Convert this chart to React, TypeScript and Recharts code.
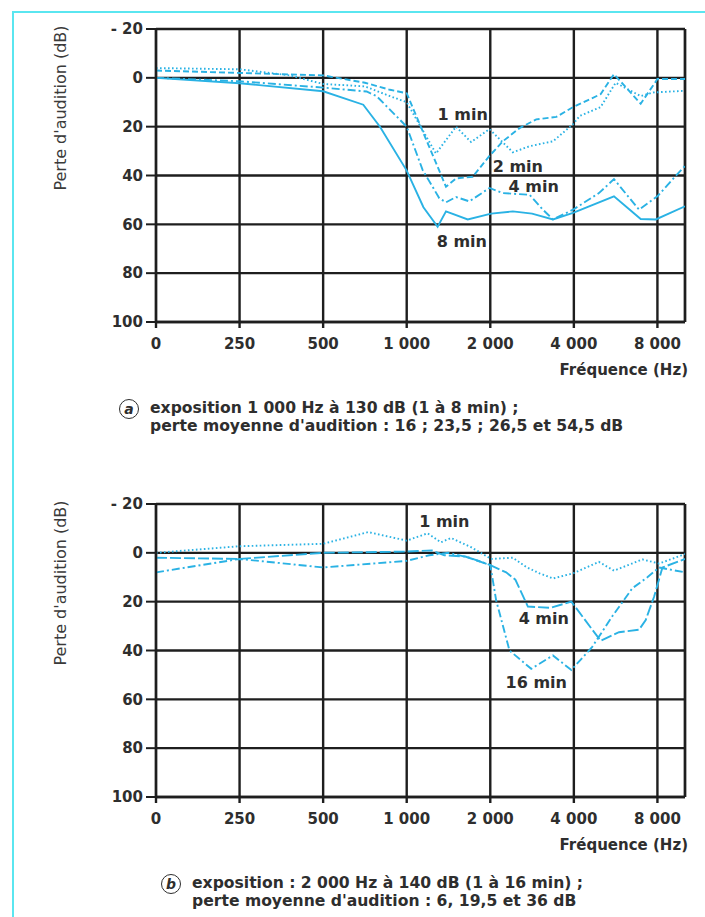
import {
  LineChart,
  Line,
  XAxis,
  YAxis,
  CartesianGrid,
  ReferenceLine,
  ReferenceDot,
} from "recharts";

const freqTicks = [0, 1, 2, 3, 4, 5, 6];
const freqLabels = ["0", "250", "500", "1 000", "2 000", "4 000", "8 000"];
const dbTicks = [-20, 0, 20, 40, 60, 80, 100];
const xMax = 6.33;

// points are [octave position on the axis, hearing loss in dB]
// (a) 1000 Hz at 130 dB
const a1min = [[0, -4], [1, -3.5], [1.6, -1], [2, 2.5], [2.5, 3.5], [2.8, 7.5], [3, 10], [3.35, 31], [3.59, 20], [3.77, 26.3], [3.99, 21], [4.27, 30.5], [4.47, 28], [4.75, 26], [4.99, 19], [5.07, 15.6], [5.32, 12], [5.5, 2], [5.8, 7.5], [5.95, 6], [6.33, 5.3]];
const a2min = [[0, -3], [1, -2], [2, -1], [2.5, 2], [2.8, 4.9], [3, 6.3], [3.47, 44.6], [3.59, 41.2], [3.79, 40.5], [3.99, 32], [4.15, 26], [4.35, 20.6], [4.55, 17], [4.79, 16], [4.99, 12], [5.32, 6.7], [5.48, -1.5], [5.8, 10.6], [6, 0.5], [6.33, 0.5]];
const a4min = [[0, 0], [1, 1.4], [2, 4], [2.52, 5.6], [2.64, 7.5], [3, 20], [3.19, 37.7], [3.39, 49.3], [3.47, 51], [3.59, 48.8], [3.75, 50.6], [3.99, 45.1], [4.15, 47.2], [4.47, 47.9], [4.63, 54], [4.75, 58], [4.99, 54], [5.3, 47.2], [5.48, 41.5], [5.78, 54], [6, 48.5], [6.33, 36]];
const a8min = [[0, 0], [1, 2.2], [2, 5.5], [2.48, 11], [2.68, 20], [3, 38], [3.2, 53], [3.37, 61], [3.47, 54.7], [3.73, 58], [4.01, 55.6], [4.27, 54.7], [4.5, 55.6], [4.75, 58], [4.99, 55.3], [5.48, 48.5], [5.8, 57.8], [5.98, 58], [6.33, 52.6]];

// (b) 2000 Hz at 140 dB
const b1min = [[0, 0], [1, -2.7], [2, -3.7], [2.54, -8.5], [3, -5], [3.25, -8], [3.41, -4.3], [3.53, -6.1], [3.77, -2.3], [4.01, 2.5], [4.27, 2], [4.43, 5.8], [4.59, 8.4], [4.75, 10.5], [4.99, 8.4], [5.3, 3.7], [5.48, 7.3], [5.82, 2.7], [6.02, 4.4], [6.33, 0.5]];
const b4min = [[0, 2], [1, 2.5], [2, 0], [3, -0.5], [3.3, -1], [3.45, 1], [3.7, 1.5], [4, 5], [4.19, 8], [4.3, 11], [4.45, 22], [4.72, 22.5], [4.97, 20], [5.32, 36], [5.54, 32.5], [5.78, 31.5], [5.86, 27.5], [5.96, 18], [6.06, 6], [6.33, 2.5]];
const b16min = [[0, 8], [1, 2.5], [2, 6], [3, 3.3], [3.27, 1], [3.5, 0], [3.75, 2], [4, 5], [4.07, 19.4], [4.23, 40], [4.49, 47.5], [4.75, 42], [4.97, 48], [5.22, 38.5], [5.46, 26], [5.7, 14.5], [5.88, 10], [6.02, 6], [6.33, 8]];

const FONT = "'DejaVu Sans', 'Liberation Sans', sans-serif";
const INK = "#2e2e2e";
const GRID = "#1e1e1e";
const BLUE = "#2ab2e4";
const FRAME = "#5ae6f0";

const DOT = "1.6 2.4";
const DASH = "6 3";
const DASHDOT = "8 3 2 3";
const LONGDASH = "11 3";

const toPts = (arr: number[][]) => arr.map(([x, y]) => ({ x, y }));

const chartA = [
  { name: "1 min", pts: a1min, dash: DOT },
  { name: "2 min", pts: a2min, dash: DASH },
  { name: "4 min", pts: a4min, dash: DASHDOT },
  { name: "8 min", pts: a8min, dash: undefined },
];
const notesA = [
  { text: "1 min", x: 3.67, y: 15 },
  { text: "2 min", x: 4.33, y: 36.3 },
  { text: "4 min", x: 4.52, y: 44.5 },
  { text: "8 min", x: 3.66, y: 67 },
];

const chartB = [
  { name: "1 min", pts: b1min, dash: DOT },
  { name: "4 min", pts: b4min, dash: LONGDASH },
  { name: "16 min", pts: b16min, dash: DASHDOT },
];
const notesB = [
  { text: "1 min", x: 3.45, y: -12.7 },
  { text: "4 min", x: 4.64, y: 26.7 },
  { text: "16 min", x: 4.55, y: 53.3 },
];

const tickFont = { fill: INK, fontSize: 15, fontWeight: "bold", fontFamily: FONT };

function Audiogram({ series, notes, top, letter, line1, line2, capX }: any) {
  return (
    <div style={{ position: "absolute", left: 0, top, width: 705, height: 450 }}>
      <LineChart width={705} height={360} margin={{ top: 29, right: 20, bottom: 8, left: 96 }}>
        <CartesianGrid stroke={GRID} strokeWidth={2.4} />
        <XAxis
          type="number"
          dataKey="x"
          domain={[0, xMax]}
          ticks={freqTicks}
          interval={0}
          allowDataOverflow
          tickFormatter={(v: number) => freqLabels[v]}
          height={30}
          tickSize={6}
          tickMargin={10}
          axisLine={{ stroke: GRID, strokeWidth: 2.4 }}
          tickLine={{ stroke: GRID, strokeWidth: 2.4 }}
          tick={tickFont}
        />
        <YAxis
          type="number"
          domain={[-20, 100]}
          reversed
          ticks={dbTicks}
          interval={0}
          width={60}
          tickSize={10}
          tickMargin={3}
          tickFormatter={(v: number) => (v < 0 ? "- " + Math.abs(v) : String(v))}
          axisLine={{ stroke: GRID, strokeWidth: 2.4 }}
          tickLine={{ stroke: GRID, strokeWidth: 2 }}
          tick={tickFont}
        />
        <ReferenceLine x={xMax} stroke={GRID} strokeWidth={2.4} />
        {series.map((s: any) => (
          <Line
            key={s.name}
            data={toPts(s.pts)}
            dataKey="y"
            type="linear"
            dot={false}
            stroke={BLUE}
            strokeWidth={1.9}
            strokeDasharray={s.dash}
            isAnimationActive={false}
          />
        ))}
        {notes.map((n: any) => (
          <ReferenceDot
            key={n.text}
            x={n.x}
            y={n.y}
            r={0}
            shape={(p: any) => (
              <text
                x={p.cx}
                y={p.cy}
                textAnchor="middle"
                dominantBaseline="central"
                fill={INK}
                fontSize={16}
                fontWeight="bold"
                fontFamily={FONT}
              >
                {n.text}
              </text>
            )}
          />
        ))}
      </LineChart>
      {/* axis titles */}
      <div
        style={{
          position: "absolute",
          left: 60,
          top: 108,
          transform: "translate(-50%, -50%) rotate(-90deg)",
          whiteSpace: "nowrap",
          fontFamily: FONT,
          fontSize: 16,
          color: "#3a3a3a",
        }}
      >
        Perte d'audition (dB)
      </div>
      <div
        style={{
          position: "absolute",
          right: 17,
          top: 370,
          transform: "translateY(-50%)",
          whiteSpace: "nowrap",
          fontFamily: FONT,
          fontSize: 15,
          fontWeight: "bold",
          color: INK,
        }}
      >
        Fréquence (Hz)
      </div>
      {/* caption */}
      <div
        style={{
          position: "absolute",
          left: capX - 31,
          top: 409,
          width: 20,
          height: 20,
          transform: "translateY(-50%)",
          border: "1.7px solid " + INK,
          borderRadius: "50%",
          boxSizing: "border-box",
          display: "flex",
          alignItems: "center",
          justifyContent: "center",
          fontFamily: FONT,
          fontSize: 14,
          fontWeight: "bold",
          fontStyle: "italic",
          color: INK,
        }}
      >
        {letter}
      </div>
      <div
        style={{
          position: "absolute",
          left: capX,
          top: 399,
          fontFamily: FONT,
          fontSize: 15.6,
          fontWeight: "bold",
          lineHeight: "18px",
          color: INK,
          whiteSpace: "nowrap",
        }}
      >
        <div>{line1}</div>
        <div>{line2}</div>
      </div>
    </div>
  );
}

export default function App() {
  return (
    <div
      style={{
        position: "absolute",
        left: 0,
        top: 0,
        width: 705,
        height: 917,
        background: "#fff",
        overflow: "hidden",
      }}
    >
      <div style={{ position: "absolute", left: 12, top: 11, width: 700, height: 2, background: FRAME }} />
      <div style={{ position: "absolute", left: 12, top: 11, width: 2, height: 910, background: FRAME }} />
      <Audiogram
        series={chartA}
        notes={notesA}
        top={0}
        letter="a"
        capX={150}
        line1="exposition 1 000 Hz à 130 dB (1 à 8 min) ;"
        line2="perte moyenne d'audition : 16 ; 23,5 ; 26,5 et 54,5 dB"
      />
      <Audiogram
        series={chartB}
        notes={notesB}
        top={475}
        letter="b"
        capX={192}
        line1="exposition : 2 000 Hz à 140 dB (1 à 16 min) ;"
        line2="perte moyenne d'audition : 6, 19,5 et 36 dB"
      />
    </div>
  );
}
